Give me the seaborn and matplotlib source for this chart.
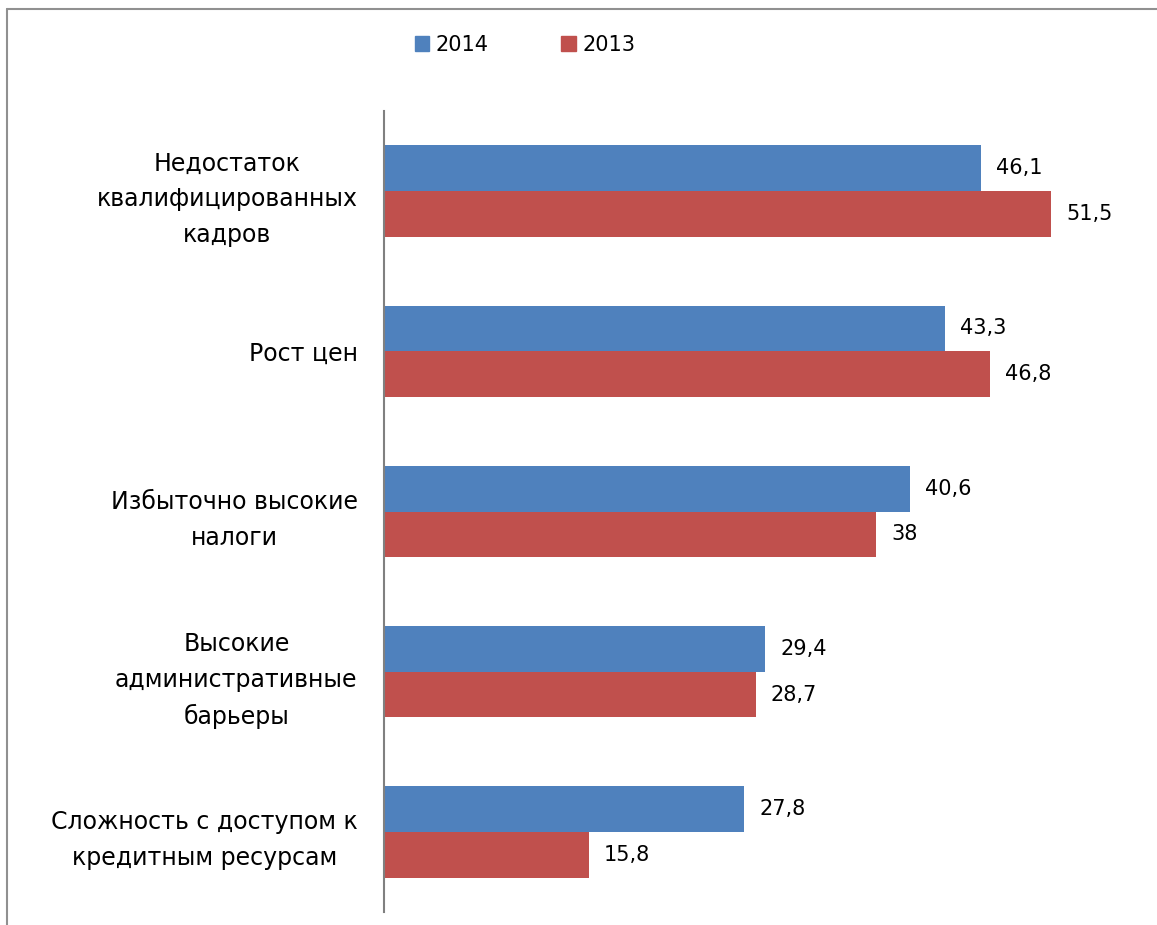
import matplotlib
matplotlib.use("Agg")
import matplotlib.pyplot as plt
from matplotlib.lines import Line2D
import seaborn as sns
import pandas as pd

categories = ["Недостаток\nквалифицированных\nкадров", "Рост цен",
              "Избыточно высокие\nналоги", "Высокие\nадминистративные\nбарьеры",
              "Сложность с доступом к\nкредитным ресурсам"]
years = ["2014", "2013"]
values_2014 = [46.1, 43.3, 40.6, 29.4, 27.8]
values_2013 = [51.5, 46.8, 38.0, 28.7, 15.8]
colors = ["#4F81BD", "#C0504D"]

rows = []
for c, v in zip(categories, values_2014):
    rows.append({"cat": c, "year": "2014", "val": v})
for c, v in zip(categories, values_2013):
    rows.append({"cat": c, "year": "2013", "val": v})
df = pd.DataFrame(rows)

sns.set_style("white")
plt.rcParams["font.family"] = ["DejaVu Sans"]
plt.rcParams["text.color"] = "black"

W, H = 1157, 925
fig = plt.figure(figsize=(W / 100, H / 100), dpi=100)
ax = fig.add_axes([384 / W, 1 - 912 / H, 1 - 384 / W, (912 - 111) / H])

sns.barplot(data=df, y="cat", x="val", hue="year", hue_order=years, order=categories,
            palette=colors, orient="h", width=0.57, ax=ax, legend=False, saturation=1,
            linewidth=0, edgecolor="none")

def fmt(v):
    s = f"{v:.1f}".replace(".", ",")
    if s.endswith(",0"):
        s = s[:-2]
    return s

for cont in ax.containers:
    ax.bar_label(cont, labels=[fmt(b.get_width()) for b in cont], padding=11,
                 fontsize=15, color="black")

ax.set_xlim(0, (W - 384) / 12.95)
ax.set_xlabel("")
ax.set_ylabel("")
ax.set_xticks([])
ax.tick_params(axis="y", length=0, pad=19, labelsize=17, labelcolor="black")
for lab in ax.get_yticklabels():
    lab.set_multialignment("center")
    lab.set_linespacing(1.62)
for s in ["top", "right", "bottom"]:
    ax.spines[s].set_visible(False)
ax.spines["left"].set_color("#808080")
ax.spines["left"].set_linewidth(1.5)

handles = [plt.Rectangle((0, 0), 1, 1, color=c) for c in colors]
fig.legend(handles, years, loc="center", bbox_to_anchor=(525 / W, 1 - 45 / H), ncol=2,
           frameon=False, fontsize=15, handlelength=0.7, handleheight=0.7,
           columnspacing=3.5, handletextpad=0.3, labelcolor="black")

fig.add_artist(Line2D([7 / W, 7 / W], [0, 1 - 9 / H], color="#909090", lw=1.5))
fig.add_artist(Line2D([7 / W, 1], [1 - 9 / H, 1 - 9 / H], color="#909090", lw=1.5))

fig.savefig("out.png", dpi=100)
